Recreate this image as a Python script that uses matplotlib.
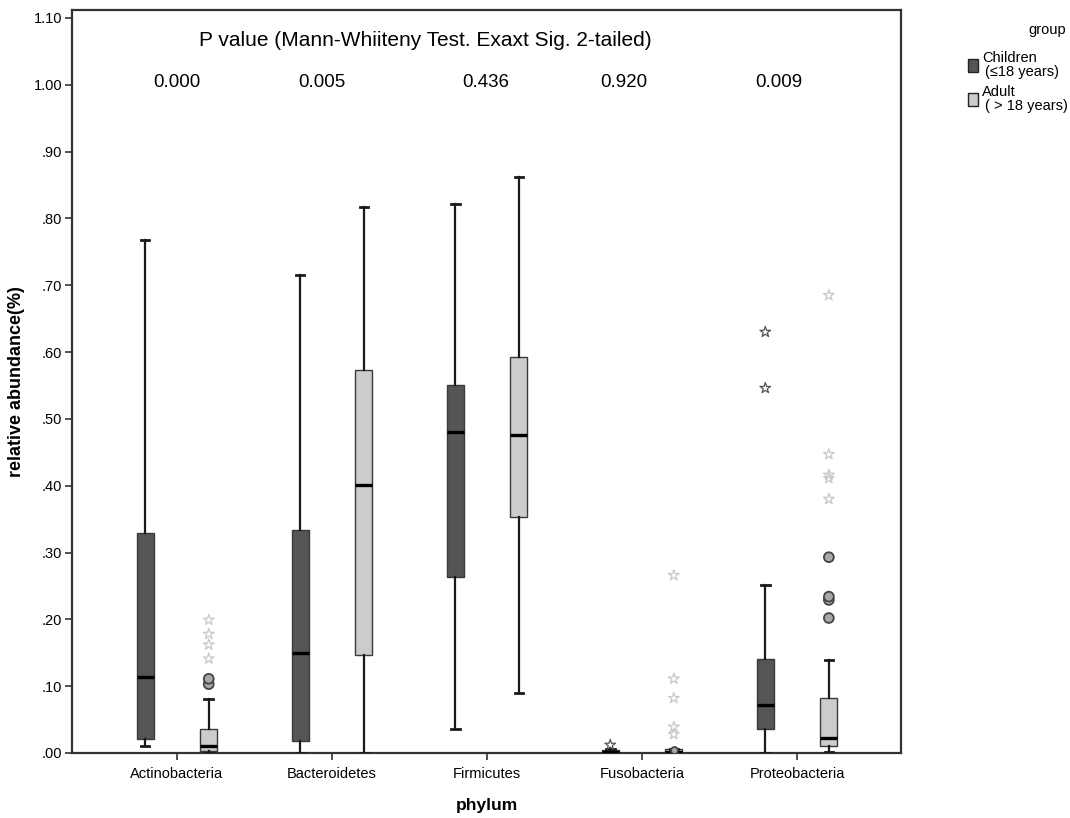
import numpy as np
import matplotlib
matplotlib.use('Agg')
import matplotlib.pyplot as plt
from matplotlib.patches import Rectangle

plt.rcParams['font.family'] = ['Liberation Sans', 'DejaVu Sans']

phyla = ['Actinobacteria', 'Bacteroidetes', 'Firmicutes', 'Fusobacteria', 'Proteobacteria']
p_values = ['0.000', '0.005', '0.436', '0.920', '0.009']

# box statistics, one entry per phylum
child_whislo = [0.010, 0.000, 0.036, 0.000, 0.000]
child_q1 = [0.021, 0.018, 0.263, 0.000, 0.036]
child_med = [0.114, 0.150, 0.480, 0.001, 0.072]
child_q3 = [0.329, 0.333, 0.551, 0.004, 0.141]
child_whishi = [0.768, 0.715, 0.822, 0.006, 0.251]
child_circles = [[], [], [], [], []]
child_stars = [[], [], [], [0.012], [0.546, 0.630]]

adult_whislo = [0.000, 0.000, 0.090, 0.000, 0.001]
adult_q1 = [0.003, 0.146, 0.353, 0.000, 0.011]
adult_med = [0.010, 0.401, 0.476, 0.002, 0.023]
adult_q3 = [0.036, 0.573, 0.593, 0.006, 0.082]
adult_whishi = [0.081, 0.817, 0.862, 0.006, 0.139]
adult_circles = [[0.103, 0.111], [], [], [0.004], [0.202, 0.229, 0.234, 0.293]]
adult_stars = [[0.141, 0.162, 0.178, 0.199], [], [],
               [0.028, 0.039, 0.082, 0.111, 0.266],
               [0.380, 0.411, 0.416, 0.447, 0.685]]

fig = plt.figure(figsize=(10.7, 8.18), dpi=100)
ax = fig.add_axes([0.0673, 0.0795, 0.7747, 0.9083])

positions = np.arange(len(phyla))
offset = 0.205
box_width = 0.11


def draw_group(pos, whislo, q1, med, q3, whishi, circles, stars, fill, star_color):
    stats = []
    for i in range(len(pos)):
        stats.append({'whislo': whislo[i], 'q1': q1[i], 'med': med[i],
                      'q3': q3[i], 'whishi': whishi[i], 'fliers': []})
    ax.bxp(stats, positions=pos, widths=box_width, patch_artist=True,
           showfliers=False, capwidths=0.055,
           boxprops=dict(facecolor=fill, edgecolor='#3a3a3a', linewidth=1.0),
           medianprops=dict(color='black', linewidth=2.4),
           whiskerprops=dict(color='#1a1a1a', linewidth=1.6),
           capprops=dict(color='#1a1a1a', linewidth=2.0), zorder=3)
    for i, p in enumerate(pos):
        if circles[i]:
            sizes = [50 if c > 0.01 else 25 for c in circles[i]]
            ax.scatter([p] * len(circles[i]), circles[i], s=sizes, marker='o',
                       facecolor='#a8a8a8', edgecolor='#444444', linewidths=1.3, zorder=4)
        if stars[i]:
            ax.scatter([p] * len(stars[i]), stars[i], s=65, marker='*',
                       facecolor='none', edgecolor=star_color, linewidths=0.9, zorder=4)


draw_group(positions - offset, child_whislo, child_q1, child_med, child_q3, child_whishi,
           child_circles, child_stars, '#555555', '#555555')
draw_group(positions + offset, adult_whislo, adult_q1, adult_med, adult_q3, adult_whishi,
           adult_circles, adult_stars, '#cccccc', '#c8c8c8')

ax.set_xlim(-0.677, 4.67)
ax.set_ylim(0, 1.112)
ax.set_xticks(positions)
ax.set_xticklabels(phyla, fontsize=10.5)
yticks = np.arange(0, 1.11, 0.1)
ax.set_yticks(yticks)
ax.set_yticklabels(['{0:.2f}'.format(t).lstrip('0') if t < 1 else '{0:.2f}'.format(t) for t in yticks],
                   fontsize=10.5)
ax.tick_params(axis='both', direction='out', length=5, width=1.2, color='#333333', pad=2)
ax.tick_params(axis='x', pad=5)
for side in ax.spines.values():
    side.set_linewidth(1.6)
    side.set_color('#333333')

ax.set_ylabel('relative abundance(%)', fontsize=13, fontweight='bold', labelpad=6)
ax.set_xlabel('phylum', fontsize=12.5, fontweight='bold', labelpad=12)

ax.text(1.60, 1.067, 'P value (Mann-Whiiteny Test. Exaxt Sig. 2-tailed)',
        ha='center', va='center', fontsize=15)
p_x = [0.0, 0.935, 1.99, 2.88, 3.88]
for x, p in zip(p_x, p_values):
    ax.text(x, 1.003, p, ha='center', va='center', fontsize=13.5)

# legend
fig.text(0.996, 0.963, 'group', ha='right', va='center', fontsize=10.5)
fig.patches.append(Rectangle((0.9045, 0.9115), 0.0093, 0.016, transform=fig.transFigure,
                             facecolor='#555555', edgecolor='#222222', linewidth=1.0))
fig.patches.append(Rectangle((0.9045, 0.8700), 0.0093, 0.016, transform=fig.transFigure,
                             facecolor='#cccccc', edgecolor='#222222', linewidth=1.0))
fig.text(0.918, 0.929, 'Children', ha='left', va='center', fontsize=10.5)
fig.text(0.921, 0.912, '(\u226418 years)', ha='left', va='center', fontsize=10.5)
fig.text(0.918, 0.887, 'Adult', ha='left', va='center', fontsize=10.5)
fig.text(0.921, 0.870, '( > 18 years)', ha='left', va='center', fontsize=10.5)

fig.savefig('out.png', dpi=100)
